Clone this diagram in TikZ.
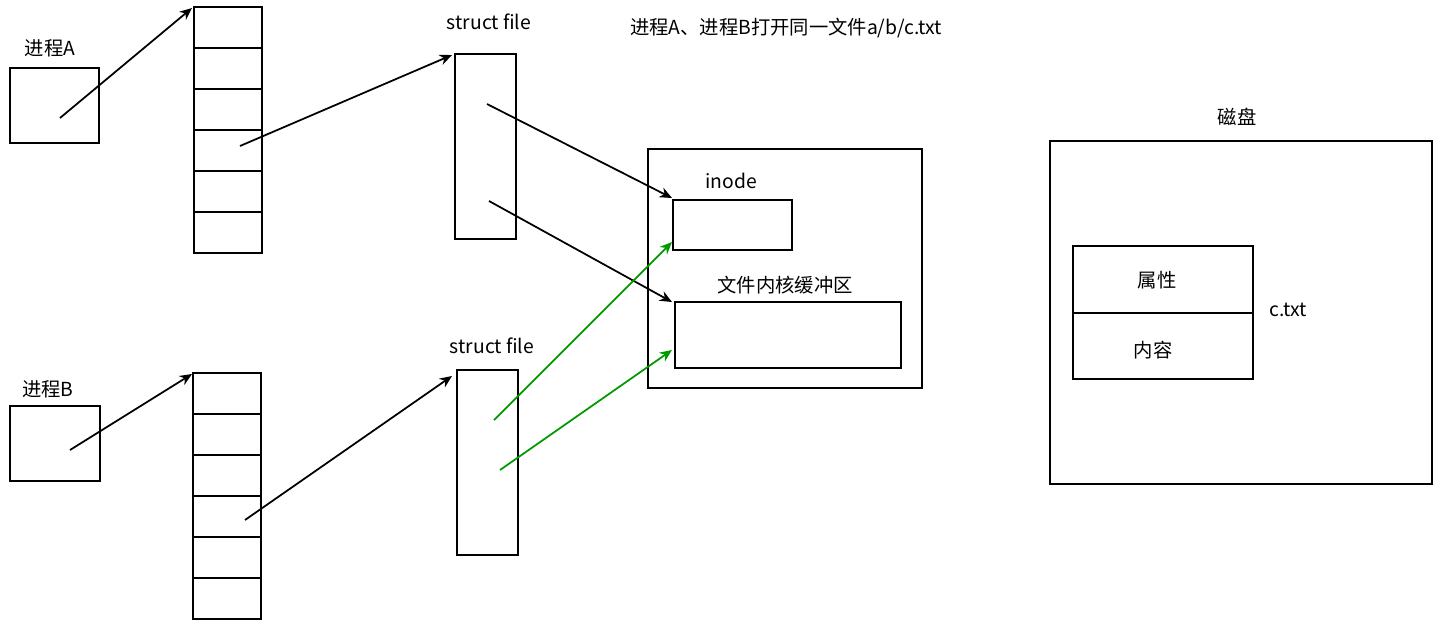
\documentclass[tikz,border=0pt]{standalone}
\usepackage{fontspec}
\setmainfont{Noto Sans CJK SC}
\usetikzlibrary{positioning,arrows.meta}
\begin{document}
\begin{tikzpicture}
[x=0.02cm, y=-0.02cm, font=\fontsize{11}{13}\selectfont,
 box/.style={draw, line width=1.2pt},
 link/.style={line width=1pt, -{Stealth[length=7pt,width=6pt]}},
 green link/.style={link, draw=green!60!black},
 lbl/.style={inner sep=0pt}]
\useasboundingbox (0,0) rectangle (1446,629);
% processes
\draw[box] (10,68) rectangle (99,143);
\node[lbl] (pa) at (50,48) {进程A};
\draw[box] (10,406) rectangle (100,481);
\node[lbl] (pb) at (48,389) {进程B};
% fd tables
\foreach \y in {7,48,89,130,171,212} \draw[box] (194,\y) rectangle (262,\y+41);
\foreach \y in {373,414,455,496,537,578} \draw[box] (193,\y) rectangle (261,\y+41);
% struct file
\draw[box] (455,54) rectangle (516,239);
\node[lbl] (sfa) at (489,22) {struct file};
\draw[box] (457,370) rectangle (518,555);
\node[lbl] (sfb) at (492,346) {struct file};
\node[lbl] (title) at (786,28) {进程A、进程B打开同一文件a/b/c.txt};
% kernel
\draw[box] (648,149) rectangle (922,388);
\draw[box] (673,200) rectangle (792,250);
\node[lbl] (inode) at (731,181) {inode};
\draw[box] (675,302) rectangle (901,368);
\node[lbl] (buf) at (785,285) {文件内核缓冲区};
% disk
\draw[box] (1050,141) rectangle (1432,484);
\node[lbl] (disk) at (1237,117) {磁盘};
\draw[box] (1073,246) rectangle (1253,379);
\draw[box] (1073,313) -- (1253,313);
\node[lbl] (attr) at (1157,280) {属性};
\node[lbl] (data) at (1153,350) {内容};
\node[lbl] (ctxt) at (1288,310) {c.txt};
% arrow ends
\coordinate (a0) at (60,118);  \coordinate (a1) at (192,8);
\coordinate (a2) at (240,146); \coordinate (a3) at (452,55);
\coordinate (a4) at (487,104); \coordinate (a5) at (672,198);
\coordinate (a6) at (489,201); \coordinate (a7) at (672,302);
\coordinate (b0) at (70,450);  \coordinate (b1) at (192,374);
\coordinate (b2) at (245,520); \coordinate (b3) at (452,376);
\coordinate (b4) at (494,420); \coordinate (b5) at (672,242);
\coordinate (b6) at (500,470); \coordinate (b7) at (672,350);
\draw[link] (a0) -- (a1);
\draw[link] (a2) -- (a3);
\draw[link] (a4) -- (a5);
\draw[link] (a6) -- (a7);
\draw[link] (b0) -- (b1);
\draw[link] (b2) -- (b3);
\draw[green link] (b4) -- (b5);
\draw[green link] (b6) -- (b7);
\end{tikzpicture}
\end{document}
